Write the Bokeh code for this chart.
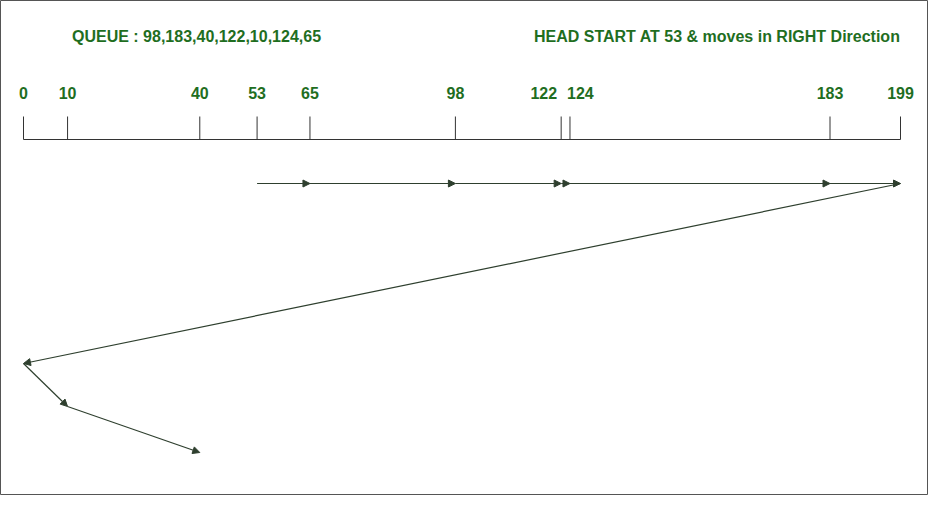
from bokeh.plotting import figure
from bokeh.models import Range1d, Arrow, NormalHead, ColumnDataSource
from bokeh.core.properties import value
from bokeh.embed import file_html
from bokeh.resources import INLINE

queue = [98, 183, 40, 122, 10, 124, 65]
head = 53
ticks = [0, 10, 40, 53, 65, 98, 122, 124, 183, 199]
# service order (SCAN to the right end, then jump to 0)
order = [53, 65, 98, 122, 124, 183, 199, 0, 10, 40]
level = [183, 183, 183, 183, 183, 183, 183, 363, 406, 452]

green = "#1f6e1f"
arrow_col = "#2e3f2e"
font = value("Liberation Sans")

p = figure(width=928, height=495, output_backend="svg", toolbar_location=None,
           x_range=Range1d(-5.22, 205.35), y_range=Range1d(495, 0), min_border=0)
p.axis.visible = False
p.grid.visible = False
p.outline_line_color = "#555555"
p.outline_line_width = 1

# axis line and ticks
p.segment(x0=[0], y0=[139], x1=[199], y1=[139], color="#333333", line_width=1)
p.segment(x0=ticks, y0=[116] * len(ticks), x1=ticks, y1=[139] * len(ticks), color="#333333")

align = ["center"] * len(ticks)
align[ticks.index(122)] = "right"
align[ticks.index(124)] = "left"
xo = [0] * len(ticks)
xo[ticks.index(122)] = -4
xo[ticks.index(124)] = -3
src = ColumnDataSource(dict(x=ticks, y=[92] * len(ticks), t=[str(t) for t in ticks], a=align, xo=xo))
p.text(x="x", y="y", text="t", source=src, text_align="a", x_offset="xo", text_baseline="middle",
       text_font_size="16px", text_font_style="bold", text_color=green, text_font=font)

p.text(x=[11], y=[36], text=["QUEUE : " + ",".join(str(q) for q in queue)], text_baseline="middle",
       text_font_size="16px", text_font_style="bold", text_color=green, text_font=font)
p.text(x=[199], y=[36], text=["HEAD START AT %d & moves in RIGHT Direction" % head], text_align="right",
       text_baseline="middle", text_font_size="16px", text_font_style="bold", text_color=green,
       text_font=font)

for i in range(len(order) - 1):
    p.add_layout(Arrow(end=NormalHead(size=7, fill_color=arrow_col, line_color=arrow_col),
                       x_start=order[i], y_start=level[i], x_end=order[i + 1], y_end=level[i + 1],
                       line_color=arrow_col, line_width=1.2))

open("out.html", "w").write(file_html(p, INLINE))
